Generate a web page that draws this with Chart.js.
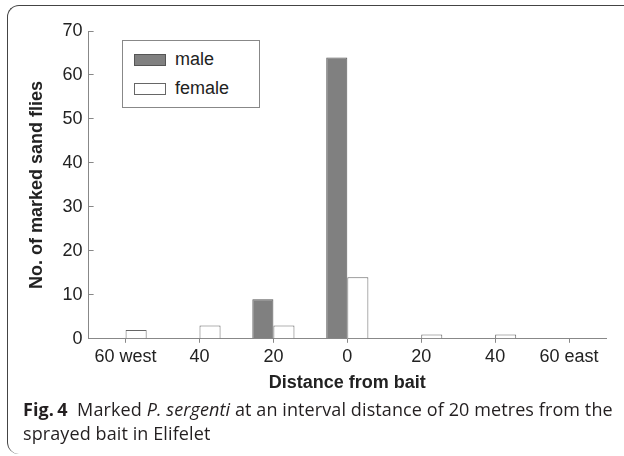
<!DOCTYPE html>
<html>
<head>
<meta charset="utf-8">
<script src="https://cdn.jsdelivr.net/npm/chart.js@4.4.1/dist/chart.umd.min.js"></script>
<style>
  html, body { margin: 0; padding: 0; background: #fff; }
  body { width: 624px; height: 456px; position: relative; overflow: hidden; }
  .frame {
    position: absolute; left: 7px; top: 5px; width: 700px; height: 449px;
    border-top: 1.5px solid #444; border-left: 1.5px solid #444;
    border-radius: 12px 0 0 12px; box-sizing: border-box;
  }
  .chart-wrap { position: absolute; left: 0; top: 0; width: 624px; height: 400px; }
  .legend {
    position: absolute; left: 122px; top: 40px; width: 138px; height: 68px;
    border: 1px solid #888; box-sizing: border-box; background: #fff;
    font-family: "Liberation Sans", Arial, sans-serif; font-size: 18px; color: #222;
  }
  .legend-item { position: absolute; left: 11px; display: flex; align-items: center; }
  .swatch { width: 32px; height: 12px; box-sizing: border-box; margin-right: 9px; }
  .caption {
    position: absolute; left: 23px; top: 397px; width: 600px;
    font-family: "Open Sans", sans-serif; font-size: 18px; line-height: 24px;
    color: #231f20; letter-spacing: 0.1px; white-space: nowrap;
  }
</style>
</head>
<body>
<div class="frame"></div>
<div class="chart-wrap"><canvas id="chart" width="624" height="400"></canvas></div>
<div class="legend" id="legend"></div>
<div class="caption"><b>Fig.&thinsp;4</b>&nbsp; Marked <i>P. sergenti</i> at an interval distance of 20 metres from the<br>sprayed bait in Elifelet</div>
<script>
const distances = ["60 west", "40", "20", "0", "20", "40", "60 east"];
const maleCounts = [0, 0, 9, 64, 0, 0, 0];
const femaleCounts = [2, 3, 3, 14, 1, 1, 0];
const yTicks = [0, 10, 20, 30, 40, 50, 60, 70];

const series = [
  { label: "male", data: maleCounts, fill: "#808080", border: "#555" },
  { label: "female", data: femaleCounts, fill: "#ffffff", border: "#666" },
];

Chart.defaults.font.family = "'Liberation Sans', Arial, sans-serif";
Chart.defaults.font.size = 18;
Chart.defaults.color = "#222";

new Chart(document.getElementById("chart"), {
  type: "bar",
  data: {
    labels: distances,
    datasets: series.map((s) => ({
      label: s.label,
      data: s.data,
      backgroundColor: s.fill,
      borderColor: s.border,
      borderWidth: 1,
      categoryPercentage: 0.57,
      barPercentage: 1,
    })),
  },
  options: {
    responsive: false,
    animation: false,
    layout: { padding: { left: 10, right: 18, top: 31, bottom: 2 } },
    plugins: { legend: { display: false }, tooltip: { enabled: false } },
    scales: {
      x: {
        offset: true,
        grid: { drawOnChartArea: false, offset: false, tickLength: 4, color: "#888" },
        border: { color: "#888" },
        ticks: { padding: 3, maxRotation: 0, autoSkip: false },
        title: {
          display: true,
          text: "Distance from bait",
          font: { weight: "bold", size: 18 },
          padding: { top: 2, bottom: 4 },
        },
      },
      y: {
        min: yTicks[0],
        max: yTicks[yTicks.length - 1],
        afterBuildTicks: (axis) => { axis.ticks = yTicks.map((v) => ({ value: v })); },
        grid: { drawOnChartArea: false, tickLength: -5, color: "#888" },
        border: { color: "#888" },
        ticks: { padding: 11 },
        title: {
          display: true,
          text: "No. of marked sand flies",
          font: { weight: "bold", size: 18 },
          padding: { top: 16, bottom: 4 },
        },
      },
    },
  },
});

// legend box, drawn as html
const legend = document.getElementById("legend");
series.forEach((s, i) => {
  const item = document.createElement("div");
  item.className = "legend-item";
  item.style.top = (i === 0 ? 8 : 37) + "px";
  item.innerHTML = `<span class="swatch" style="background:${s.fill};border:1px solid ${s.border}"></span><span>${s.label}</span>`;
  legend.appendChild(item);
});
</script>
</body>
</html>
